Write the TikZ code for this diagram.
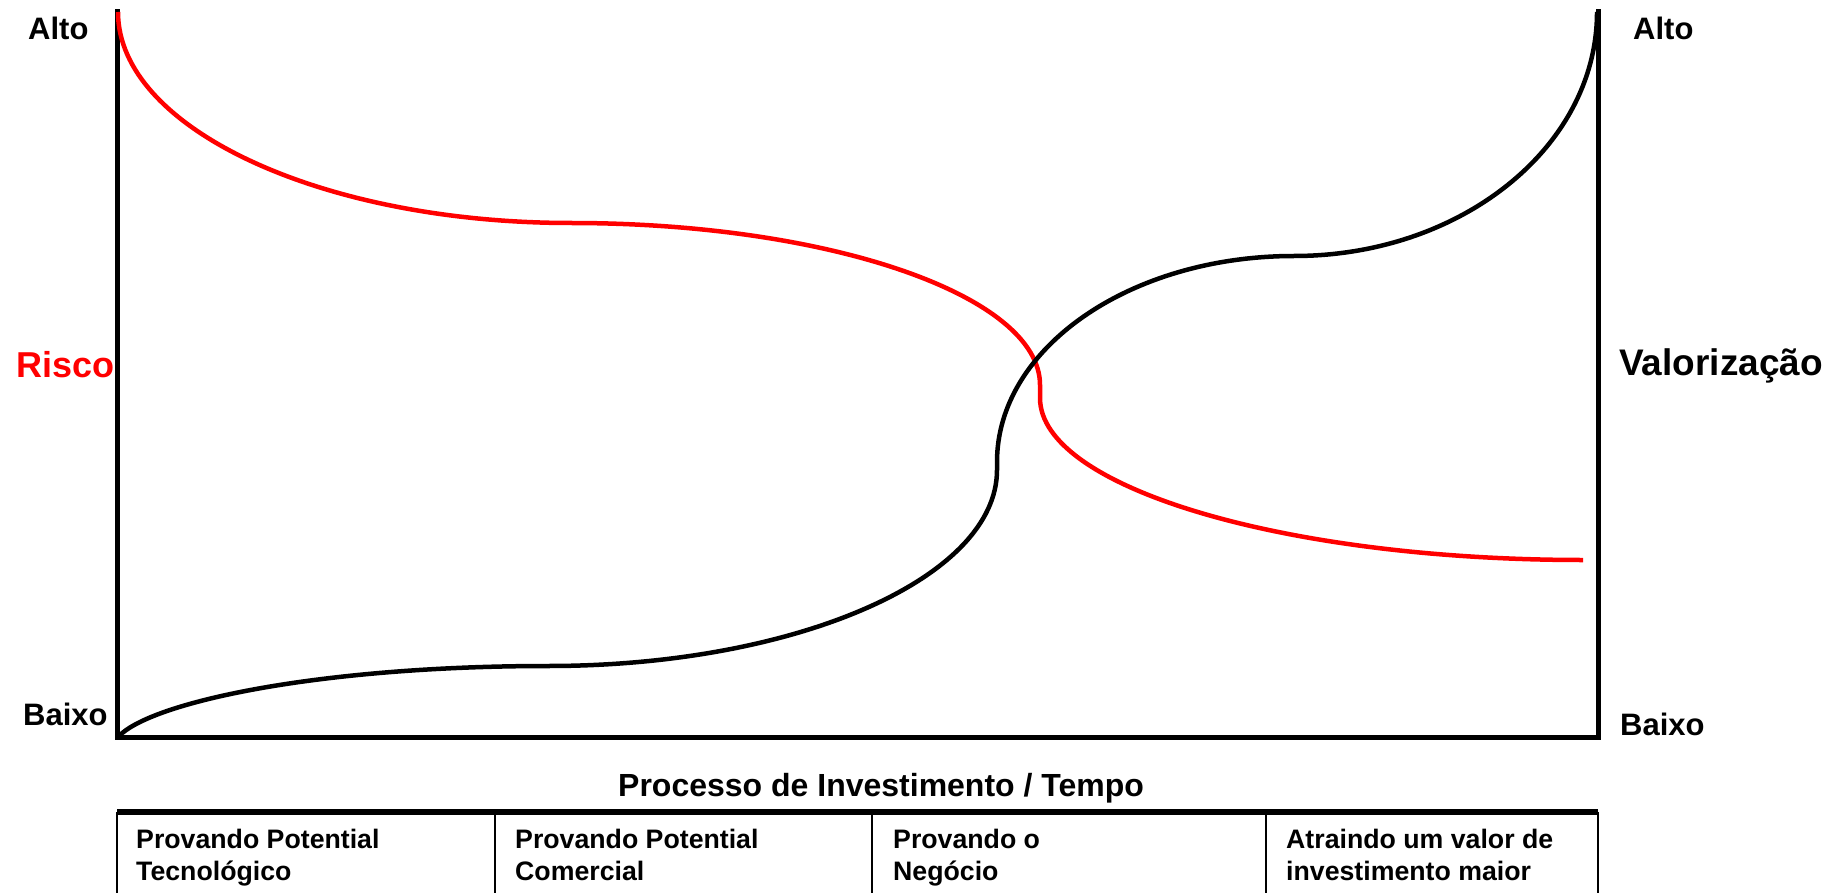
\documentclass[tikz,border=0pt]{standalone}
\usepackage{fontspec}
\setmainfont{Liberation Sans}
\begin{document}
\begin{tikzpicture}[x=1pt,y=-1pt,
  axis/.style={line width=5pt, line join=miter, line cap=rect},
  curveline/.style={line width=4.5pt},
  tabletop/.style={line width=6pt},
  tablesep/.style={line width=2.5pt},
  lbl/.style={inner sep=0pt, font=\fontsize{31}{36}\selectfont\bfseries},
  biglbl/.style={inner sep=0pt, font=\fontsize{36}{42}\selectfont\bfseries},
  midlbl/.style={inner sep=0pt, font=\fontsize{32}{38}\selectfont\bfseries},
  cell/.style={inner sep=0pt, anchor=north west, align=left, font=\fontsize{26.7}{32}\selectfont\bfseries}]
\useasboundingbox (0,0) rectangle (1828,893);
% axes
\coordinate (TL) at (117,12);
\coordinate (BL) at (117,737);
\coordinate (BR) at (1598,737);
\coordinate (TR) at (1598,12);
\draw[axis] (TL) -- (BL) -- (BR) -- (TR);
% risk curve
\coordinate (r0) at (118,12);
\coordinate (r1) at (571,223);
\coordinate (r2) at (1040,385);
\coordinate (r3) at (1040,398);
\coordinate (r4) at (1583,560);
\draw[curveline, red] (r0) .. controls (118,128) and (321,223) .. (r1)
  .. controls (830,223) and (1040,296) .. (r2) -- (r3)
  .. controls (1040,487) and (1283,560) .. (r4);
% value curve
\coordinate (v0) at (118,737);
\coordinate (v1) at (548,666);
\coordinate (v2) at (997,470);
\coordinate (v3) at (997,462);
\coordinate (v4) at (1294,256);
\coordinate (v5) at (1597,12);
\draw[curveline] (v0) .. controls (150,702) and (320,666) .. (v1)
  .. controls (796,666) and (997,578) .. (v2) -- (v3)
  .. controls (997,348) and (1130,256) .. (v4)
  .. controls (1461,256) and (1597,147) .. (v5);
% labels
\node[lbl, anchor=base west] (altoL) at (28,40) {Alto};
\node[lbl, anchor=base west] (altoR) at (1633,40) {Alto};
\node[lbl, anchor=base west] (baixoL) at (23,725) {Baixo};
\node[lbl, anchor=base west] (baixoR) at (1620,735) {Baixo};
\node[biglbl, text=red, anchor=base west] (risco) at (16,377) {Risco};
\node[biglbl, anchor=base west, font=\fontsize{37}{42}\selectfont\bfseries] (valor) at (1619,375) {Valorização};
\node[midlbl, anchor=base west] (proc) at (618,796) {Processo de Investimento / Tempo};
% table
\coordinate (T0) at (117,812);
\coordinate (T4) at (1598,812);
\draw[tabletop] (T0) -- (T4);
\foreach \x in {117,495,872,1266,1598}{
  \draw[tablesep] (\x,812) -- (\x,900);
}
\node[cell] (c1) at (136,829) {Provando Potential\\Tecnológico};
\node[cell] (c2) at (515,829) {Provando Potential\\Comercial};
\node[cell] (c3) at (893,829) {Provando o\\Negócio};
\node[cell] (c4) at (1286,829) {Atraindo um valor de\\investimento maior};
\end{tikzpicture}
\end{document}
